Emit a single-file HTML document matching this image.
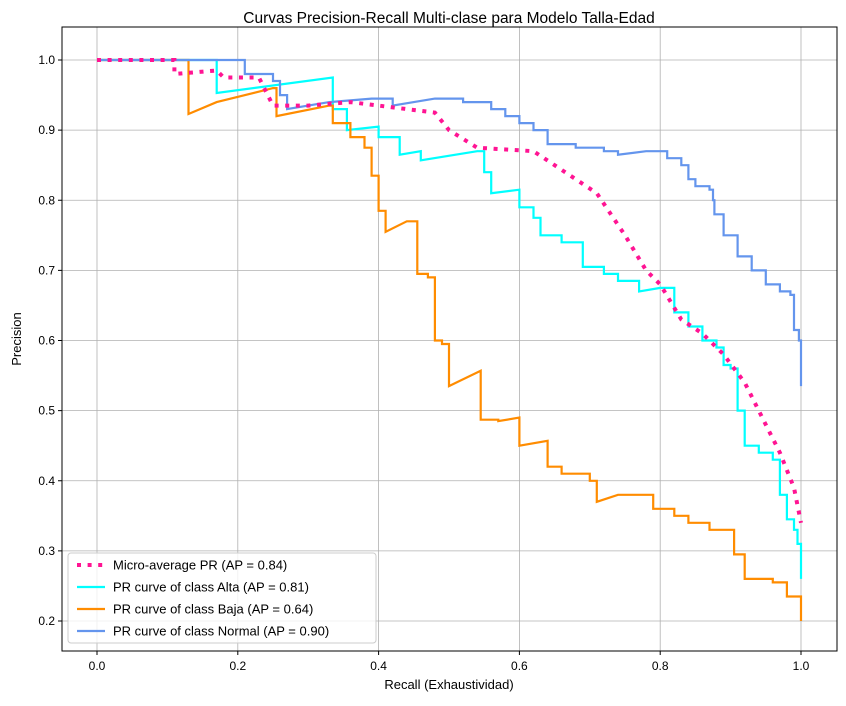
<!DOCTYPE html>
<html><head><meta charset="utf-8"><style>
body{margin:0;background:#fff;}
svg text{font-family:"Liberation Sans","DejaVu Sans",sans-serif;fill:#000;}
</style></head><body>
<svg width="846" height="701" xmlns="http://www.w3.org/2000/svg">
<g id="grid"></g>
<g id="series"></g>
<rect x="62" y="27" width="775" height="624" fill="none" stroke="#000" stroke-width="1"/>
<g id="ticks"></g>
<text x="449" y="23" text-anchor="middle" font-size="15.5">Curvas Precision-Recall Multi-clase para Modelo Talla-Edad</text>
<text x="449" y="689" text-anchor="middle" font-size="13">Recall (Exhaustividad)</text>
<text x="21" y="339" text-anchor="middle" font-size="13" transform="rotate(-90 21 339)">Precision</text>
<g id="legend"></g>
</svg>
<script>
const xTicks=[0,0.2,0.4,0.6,0.8,1.0];
const xTickLabels=["0.0","0.2","0.4","0.6","0.8","1.0"];
const yTicks=[0.2,0.3,0.4,0.5,0.6,0.7,0.8,0.9,1.0];
const yTickLabels=["0.2","0.3","0.4","0.5","0.6","0.7","0.8","0.9","1.0"];
const seriesNames=["Micro-average PR (AP = 0.84)","PR curve of class Alta (AP = 0.81)","PR curve of class Baja (AP = 0.64)","PR curve of class Normal (AP = 0.90)"];
const microR=[0,0.11,0.11,0.17,0.18,0.23,0.25,0.3,0.36,0.48,0.5,0.54,0.62,0.65,0.68,0.71,0.73,0.75,0.78,0.8,0.83,0.86,0.89,0.92,0.95,0.97,0.99,1.0];
const microP=[1,1,0.98,0.985,0.975,0.975,0.935,0.935,0.94,0.925,0.9,0.875,0.87,0.85,0.83,0.81,0.78,0.75,0.7,0.68,0.63,0.61,0.58,0.54,0.48,0.44,0.39,0.34];
const altaR=[0,0.17,0.17,0.335,0.335,0.355,0.355,0.4,0.4,0.43,0.43,0.46,0.46,0.54,0.55,0.56,0.6,0.6,0.62,0.63,0.66,0.69,0.69,0.72,0.74,0.77,0.8,0.82,0.84,0.86,0.88,0.89,0.9,0.91,0.92,0.94,0.96,0.97,0.98,0.99,0.995,1.0];
const altaP=[1,1,0.953,0.975,0.93,0.93,0.9,0.905,0.89,0.89,0.865,0.87,0.857,0.87,0.84,0.81,0.815,0.79,0.775,0.75,0.74,0.735,0.705,0.695,0.685,0.67,0.675,0.64,0.62,0.6,0.59,0.565,0.56,0.5,0.45,0.44,0.43,0.38,0.345,0.33,0.31,0.26];
const bajaR=[0,0.13,0.13,0.17,0.25,0.255,0.33,0.335,0.36,0.38,0.39,0.4,0.41,0.44,0.455,0.47,0.48,0.49,0.5,0.545,0.545,0.57,0.6,0.6,0.64,0.64,0.66,0.7,0.71,0.74,0.79,0.82,0.84,0.87,0.9,0.905,0.92,0.92,0.96,0.98,1.0,1.0];
const bajaP=[1,1,0.923,0.94,0.96,0.92,0.935,0.91,0.89,0.875,0.835,0.785,0.755,0.77,0.695,0.69,0.6,0.595,0.535,0.557,0.487,0.485,0.49,0.45,0.457,0.42,0.41,0.4,0.37,0.38,0.36,0.35,0.34,0.33,0.33,0.295,0.285,0.26,0.255,0.235,0.225,0.2];
const normR=[0,0.21,0.21,0.25,0.26,0.27,0.33,0.39,0.42,0.48,0.52,0.56,0.58,0.6,0.62,0.64,0.68,0.72,0.74,0.78,0.81,0.83,0.84,0.85,0.87,0.875,0.877,0.89,0.91,0.93,0.95,0.97,0.985,0.99,0.997,1.0];
const normP=[1,1,0.98,0.97,0.95,0.93,0.94,0.945,0.935,0.945,0.94,0.93,0.92,0.91,0.9,0.88,0.875,0.87,0.865,0.87,0.86,0.85,0.83,0.82,0.815,0.8,0.78,0.75,0.72,0.7,0.68,0.67,0.665,0.615,0.6,0.535];
const NS="http://www.w3.org/2000/svg";
const X=v=>97+(v)*704, Y=v=>60+(1-v)*701.25;
function mk(t,a,p){const e=document.createElementNS(NS,t);for(const k in a)e.setAttribute(k,a[k]);p.appendChild(e);return e;}
const grid=document.getElementById('grid'),ticks=document.getElementById('ticks');
xTicks.forEach((t,i)=>{
 const g=mk('line',{x1:X(t),x2:X(t),y1:27,y2:651,stroke:'#b0b0b0','stroke-width':0.8},grid);
 
 mk('line',{x1:X(t),x2:X(t),y1:651,y2:655,stroke:'#000'},ticks);
 const tx=mk('text',{x:X(t),y:670,'text-anchor':'middle','font-size':12},ticks);tx.textContent=xTickLabels[i];
 
});
yTicks.forEach((t,i)=>{
 const g=mk('line',{x1:62,x2:837,y1:Y(t),y2:Y(t),stroke:'#b0b0b0','stroke-width':0.8},grid);
 
 mk('line',{x1:58,x2:62,y1:Y(t),y2:Y(t),stroke:'#000'},ticks);
 const tx=mk('text',{x:55,y:Y(t)+4,'text-anchor':'end','font-size':12},ticks);tx.textContent=yTickLabels[i];
 
});
const ser=document.getElementById('series');
function line(R,P,color,w,dash,name,step){
 let d='M'+X(R[0]).toFixed(1)+' '+Y(P[0]).toFixed(1);
 for(let i=1;i<R.length;i++){
  if(step&&P[i]<P[i-1]) d+=' L'+X(R[i]).toFixed(1)+' '+Y(P[i-1]).toFixed(1);
  d+=' L'+X(R[i]).toFixed(1)+' '+Y(P[i]).toFixed(1);
 }
 const a={d:d,fill:'none',stroke:color,'stroke-width':w};
 if(dash)a['stroke-dasharray']=dash;
 const p=mk('path',a,ser);
 
}
line(altaR,altaP,'#00ffff',2.2,null,'alta-curve',true);
line(bajaR,bajaP,'#ff8c00',2.2,null,'baja-curve',true);
line(normR,normP,'#6495ed',2.2,null,'normal-curve',true);
line(microR,microP,'#ff1493',4,'4,6.6','micro-average-curve',false);
const lg=document.getElementById('legend');
const b=mk('rect',{x:68,y:553,width:308,height:90,rx:3,fill:'#fff','fill-opacity':0.8,stroke:'#ccc'},lg);

const cols=['#ff1493','#00ffff','#ff8c00','#6495ed'];
seriesNames.forEach((n,i)=>{
 const y=565+i*22;
 const l=mk('line',{x1:77,x2:105,y1:y,y2:y,stroke:cols[i],'stroke-width':i?2.2:4},lg);
 if(!i)l.setAttribute('stroke-dasharray','4,6.6');
 
 const t=mk('text',{x:113,y:y+4.5,'font-size':13},lg);t.textContent=n;
 
});
</script>
</body></html>
